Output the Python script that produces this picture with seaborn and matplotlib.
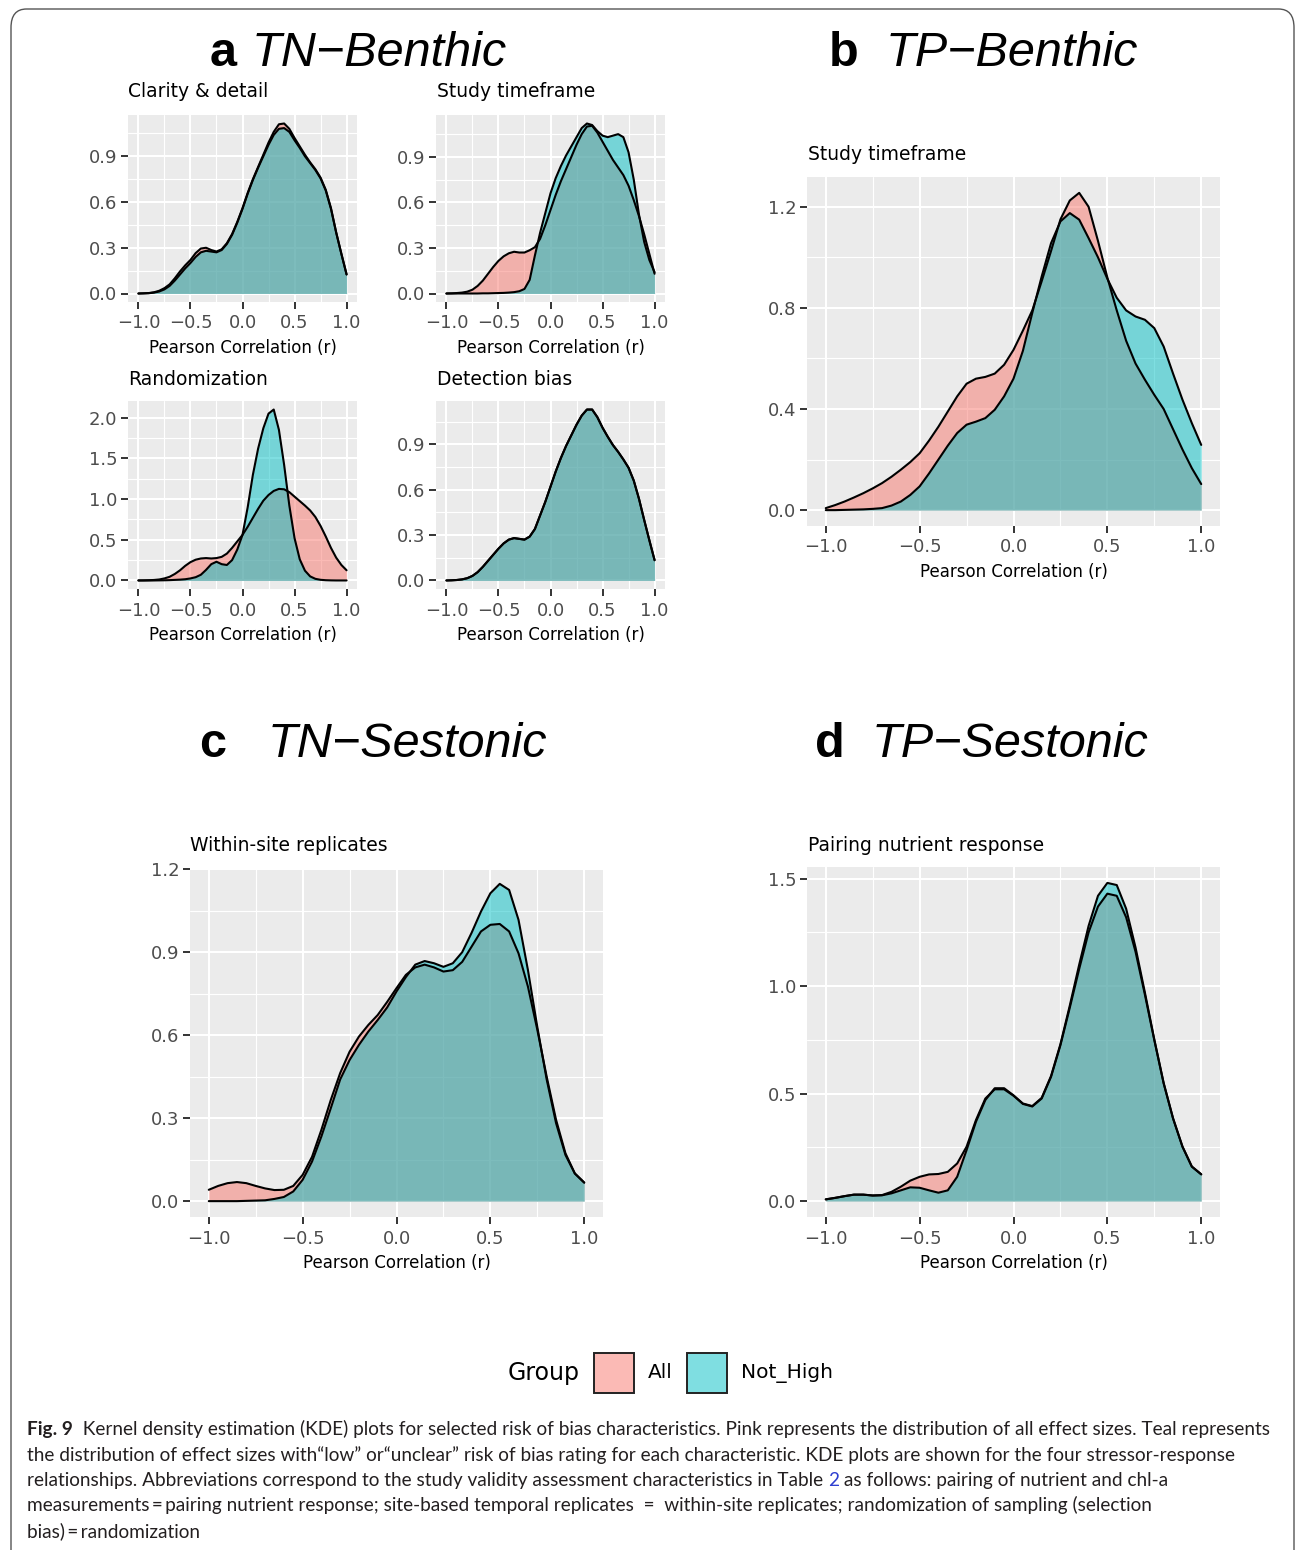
import numpy as np
import pandas as pd
import matplotlib
matplotlib.use("Agg")
import matplotlib.pyplot as plt
import matplotlib.font_manager as fm
import seaborn as sns
from matplotlib.patches import Rectangle, FancyBboxPatch
from matplotlib.ticker import FixedLocator, FixedFormatter

# ---------------- data ----------------
R_GRID = [-1.00, -0.95, -0.90, -0.85, -0.80, -0.75, -0.70, -0.65, -0.60, -0.55,
          -0.50, -0.45, -0.40, -0.35, -0.30, -0.25, -0.20, -0.15, -0.10, -0.05,
          0.00, 0.05, 0.10, 0.15, 0.20, 0.25, 0.30, 0.35, 0.40, 0.45,
          0.50, 0.55, 0.60, 0.65, 0.70, 0.75, 0.80, 0.85, 0.90, 0.95, 1.00]

GROUPS = ["All", "Not_High"]

# a) TN-Benthic : Clarity & detail
CLARITY_ALL = [0.000, 0.001, 0.003, 0.008, 0.018, 0.035, 0.060, 0.100, 0.145, 0.185,
               0.220, 0.265, 0.295, 0.300, 0.285, 0.275, 0.290, 0.330, 0.390, 0.470,
               0.560, 0.660, 0.750, 0.830, 0.910, 0.990, 1.060, 1.110, 1.115, 1.080,
               1.020, 0.965, 0.910, 0.860, 0.815, 0.760, 0.680, 0.560, 0.400, 0.260, 0.125]
CLARITY_NH = [0.000, 0.001, 0.002, 0.006, 0.013, 0.027, 0.050, 0.085, 0.125, 0.165,
              0.200, 0.240, 0.270, 0.280, 0.275, 0.270, 0.285, 0.325, 0.385, 0.465,
              0.555, 0.655, 0.745, 0.825, 0.900, 0.975, 1.040, 1.080, 1.085, 1.060,
              1.005, 0.955, 0.900, 0.855, 0.810, 0.755, 0.675, 0.555, 0.400, 0.260, 0.125]

# a) TN-Benthic : Study timeframe
TIMEFRAME_TN_ALL = [0.000, 0.001, 0.003, 0.006, 0.012, 0.025, 0.050, 0.085, 0.130, 0.175,
                    0.215, 0.245, 0.265, 0.275, 0.270, 0.270, 0.285, 0.305, 0.360, 0.450,
                    0.550, 0.650, 0.740, 0.820, 0.900, 0.980, 1.050, 1.100, 1.105, 1.060,
                    1.000, 0.940, 0.880, 0.830, 0.780, 0.710, 0.615, 0.510, 0.390, 0.260, 0.130]
TIMEFRAME_TN_NH = [0.000, 0.000, 0.000, 0.000, 0.000, 0.000, 0.000, 0.001, 0.001, 0.002,
                   0.003, 0.004, 0.006, 0.009, 0.015, 0.030, 0.090, 0.250, 0.400, 0.530,
                   0.660, 0.760, 0.840, 0.910, 0.970, 1.030, 1.090, 1.120, 1.110, 1.070,
                   1.040, 1.030, 1.040, 1.050, 1.030, 0.930, 0.750, 0.520, 0.340, 0.220, 0.140]

# a) TN-Benthic : Randomization
RANDOM_ALL = [0.000, 0.001, 0.003, 0.006, 0.012, 0.025, 0.045, 0.080, 0.125, 0.180,
              0.225, 0.255, 0.270, 0.275, 0.270, 0.275, 0.290, 0.330, 0.400, 0.480,
              0.560, 0.660, 0.770, 0.880, 0.980, 1.050, 1.100, 1.125, 1.120, 1.085,
              1.030, 0.975, 0.920, 0.860, 0.780, 0.670, 0.540, 0.400, 0.280, 0.190, 0.125]
RANDOM_NH = [0.000, 0.000, 0.000, 0.000, 0.001, 0.002, 0.004, 0.007, 0.010, 0.015,
             0.025, 0.040, 0.070, 0.130, 0.200, 0.230, 0.200, 0.190, 0.250, 0.380,
             0.560, 0.900, 1.300, 1.620, 1.870, 2.050, 2.100, 1.850, 1.420, 0.920,
             0.520, 0.260, 0.120, 0.050, 0.020, 0.008, 0.003, 0.001, 0.000, 0.000, 0.000]

# a) TN-Benthic : Detection bias (both groups identical)
DETECTION_ALL = [0.000, 0.001, 0.003, 0.007, 0.015, 0.030, 0.055, 0.090, 0.130, 0.170,
                 0.210, 0.245, 0.270, 0.280, 0.275, 0.270, 0.290, 0.340, 0.430, 0.520,
                 0.620, 0.720, 0.810, 0.890, 0.960, 1.030, 1.090, 1.130, 1.130, 1.080,
                 1.010, 0.950, 0.895, 0.850, 0.800, 0.745, 0.660, 0.540, 0.400, 0.265, 0.134]
DETECTION_NH = list(DETECTION_ALL)

# b) TP-Benthic : Study timeframe
TIMEFRAME_TP_ALL = [0.008, 0.020, 0.034, 0.050, 0.067, 0.086, 0.107, 0.132, 0.160, 0.190,
                    0.225, 0.275, 0.330, 0.390, 0.450, 0.500, 0.520, 0.527, 0.540, 0.575,
                    0.634, 0.710, 0.790, 0.905, 1.025, 1.150, 1.225, 1.255, 1.200, 1.065,
                    0.920, 0.790, 0.670, 0.580, 0.516, 0.456, 0.400, 0.320, 0.240, 0.166, 0.103]
TIMEFRAME_TP_NH = [0.000, 0.000, 0.001, 0.002, 0.003, 0.005, 0.008, 0.018, 0.034, 0.060,
                   0.094, 0.145, 0.200, 0.255, 0.305, 0.338, 0.350, 0.364, 0.397, 0.450,
                   0.520, 0.630, 0.780, 0.924, 1.056, 1.142, 1.175, 1.149, 1.076, 1.000,
                   0.915, 0.840, 0.790, 0.766, 0.753, 0.720, 0.647, 0.540, 0.437, 0.344, 0.258]

# c) TN-Sestonic : Within-site replicates
WITHIN_ALL = [0.041, 0.055, 0.065, 0.069, 0.065, 0.055, 0.046, 0.040, 0.041, 0.055,
              0.095, 0.160, 0.258, 0.366, 0.463, 0.540, 0.595, 0.637, 0.673, 0.720,
              0.770, 0.818, 0.845, 0.855, 0.845, 0.830, 0.835, 0.865, 0.920, 0.975,
              0.999, 1.002, 0.975, 0.896, 0.776, 0.620, 0.450, 0.294, 0.173, 0.100, 0.067]
WITHIN_NH = [0.000, 0.000, 0.000, 0.000, 0.001, 0.002, 0.003, 0.008, 0.015, 0.035,
             0.077, 0.143, 0.234, 0.336, 0.440, 0.510, 0.565, 0.613, 0.655, 0.700,
             0.758, 0.810, 0.855, 0.868, 0.860, 0.847, 0.860, 0.900, 0.970, 1.047,
             1.113, 1.147, 1.125, 1.017, 0.836, 0.630, 0.440, 0.282, 0.167, 0.100, 0.067]

# d) TP-Sestonic : Pairing nutrient response
PAIRING_ALL = [0.008, 0.015, 0.023, 0.030, 0.030, 0.026, 0.028, 0.043, 0.067, 0.095,
               0.113, 0.124, 0.126, 0.136, 0.175, 0.253, 0.377, 0.477, 0.520, 0.520,
               0.490, 0.452, 0.440, 0.477, 0.578, 0.725, 0.900, 1.080, 1.250, 1.370,
               1.430, 1.420, 1.320, 1.160, 0.960, 0.749, 0.547, 0.384, 0.253, 0.160, 0.124]
PAIRING_NH = [0.008, 0.015, 0.023, 0.030, 0.030, 0.026, 0.027, 0.036, 0.050, 0.064,
              0.062, 0.050, 0.039, 0.050, 0.113, 0.237, 0.369, 0.470, 0.525, 0.525,
              0.492, 0.454, 0.442, 0.480, 0.582, 0.730, 0.910, 1.100, 1.280, 1.420,
              1.480, 1.470, 1.360, 1.180, 0.970, 0.752, 0.549, 0.385, 0.254, 0.161, 0.125]

X_TICKS = [-1.0, -0.5, 0.0, 0.5, 1.0]
X_TICK_LABELS = ["\u22121.0", "\u22120.5", "0.0", "0.5", "1.0"]
X_LABEL = "Pearson Correlation (r)"

# ---------------- style ----------------
W, H, DPI = 1295, 1550, 100
sns.set_theme(style="darkgrid")
plt.rcParams["font.family"] = ["DejaVu Sans"]
plt.rcParams["text.color"] = "black"
plt.rcParams["axes.labelcolor"] = "black"
PANEL_BG = "#EBEBEB"
COLORS = {"All": "#F8766D", "Not_High": "#00BFC4"}
TITLE_FONT = ["Liberation Sans", "DejaVu Sans"]

fig = plt.figure(figsize=(W / DPI, H / DPI), dpi=DPI)
fig.patch.set_facecolor("white")


def px_axes(x0, y0, x1, y1):
    return fig.add_axes([x0 / W, 1 - y1 / H, (x1 - x0) / W, (y1 - y0) / H])


def make_df(all_vals, nh_vals):
    return pd.DataFrame({
        "r": R_GRID + R_GRID,
        "density": list(all_vals) + list(nh_vals),
        "Group": ["All"] * len(R_GRID) + ["Not_High"] * len(R_GRID),
    })


def draw_panel(box, df, yticks, subtitle, title_xy):
    ax = px_axes(*box)
    for g in GROUPS:
        sub = df[df["Group"] == g]
        ax.fill_between(sub["r"], 0, sub["density"], color=COLORS[g], alpha=0.5,
                        lw=0, zorder=2)
        sns.lineplot(data=sub, x="r", y="density", color="black", lw=1.5, ax=ax,
                     estimator=None, sort=True, legend=False, zorder=3,
                     solid_joinstyle="round", solid_capstyle="round")
    ymax = df["density"].max()
    ax.set_xlim(-1.1, 1.1)
    ax.set_ylim(-0.05 * ymax, 1.05 * ymax)
    ax.set_facecolor(PANEL_BG)
    for s in ax.spines.values():
        s.set_visible(False)
    ax.xaxis.set_major_locator(FixedLocator(X_TICKS))
    ax.xaxis.set_major_formatter(FixedFormatter(X_TICK_LABELS))
    ax.xaxis.set_minor_locator(FixedLocator([-0.75, -0.25, 0.25, 0.75]))
    step = yticks[1] - yticks[0]
    ylo, yhi = ax.get_ylim()
    yminor = [t + step / 2 for t in yticks if ylo < t + step / 2 < yhi]
    ax.yaxis.set_major_locator(FixedLocator(yticks))
    ax.yaxis.set_major_formatter(FixedFormatter([f"{t:.1f}" for t in yticks]))
    ax.yaxis.set_minor_locator(FixedLocator(yminor))
    ax.grid(which="major", color="white", lw=1.5)
    ax.grid(which="minor", color="white", lw=0.8)
    ax.set_axisbelow(True)
    ax.tick_params(which="major", length=5, width=1.4, color="#333333",
                   labelcolor="#4D4D4D", labelsize=13, direction="out")
    ax.tick_params(axis="x", pad=4)
    ax.tick_params(axis="y", pad=2.5)
    ax.tick_params(which="minor", length=0)
    ax.tick_params(left=True, bottom=True)
    ax.set_xlabel(X_LABEL, fontsize=12, color="black", labelpad=5)
    ax.set_ylabel("")
    fig.text(title_xy[0] / W, 1 - title_xy[1] / H, subtitle, fontsize=13.5,
             color="black", ha="left", va="baseline")
    return ax


panels = [
    ((128, 115, 357, 302), make_df(CLARITY_ALL, CLARITY_NH), [0, 0.3, 0.6, 0.9],
     "Clarity & detail", (128, 97)),
    ((436, 115, 665, 302), make_df(TIMEFRAME_TN_ALL, TIMEFRAME_TN_NH), [0, 0.3, 0.6, 0.9],
     "Study timeframe", (437, 97)),
    ((128, 401, 357, 589), make_df(RANDOM_ALL, RANDOM_NH), [0, 0.5, 1.0, 1.5, 2.0],
     "Randomization", (128, 385)),
    ((436, 401, 665, 589), make_df(DETECTION_ALL, DETECTION_NH), [0, 0.3, 0.6, 0.9],
     "Detection bias", (437, 385)),
    ((807, 177, 1220, 526), make_df(TIMEFRAME_TP_ALL, TIMEFRAME_TP_NH), [0, 0.4, 0.8, 1.2],
     "Study timeframe", (808, 160)),
    ((190, 868, 603, 1217), make_df(WITHIN_ALL, WITHIN_NH), [0, 0.3, 0.6, 0.9, 1.2],
     "Within-site replicates", (190, 851)),
    ((807, 867, 1220, 1217), make_df(PAIRING_ALL, PAIRING_NH), [0, 0.5, 1.0, 1.5],
     "Pairing nutrient response", (808, 851)),
]
for box, df, yt, st, txy in panels:
    draw_panel(box, df, yt, st, txy)

# ---------------- panel headings ----------------
headings = [("a", "TN\u2212Benthic", 210, 252, 66),
            ("b", "TP\u2212Benthic", 829, 886, 66),
            ("c", "TN\u2212Sestonic", 199, 268, 757),
            ("d", "TP\u2212Sestonic", 815, 872, 757)]
for letter, name, xl, xn, yb in headings:
    fig.text(xl / W, 1 - yb / H, letter, fontsize=35, fontweight="bold",
             family=TITLE_FONT, color="black", ha="left", va="baseline")
    fig.text(xn / W, 1 - yb / H, name, fontsize=35, style="italic",
             family=TITLE_FONT, color="black", ha="left", va="baseline")

# ---------------- legend ----------------
LEG_Y = 1373
fig.text(508 / W, 1 - LEG_Y / H, "Group", fontsize=17, color="black",
         ha="left", va="center")
for g, kx, tx in [("All", 594, 648), ("Not_High", 687, 741)]:
    fig.add_artist(Rectangle((kx / W, 1 - 1393 / H), 40 / W, 40 / H,
                             transform=fig.transFigure, facecolor=COLORS[g],
                             alpha=0.5, edgecolor="none"))
    fig.add_artist(Rectangle((kx / W, 1 - 1393 / H), 40 / W, 40 / H,
                             transform=fig.transFigure, facecolor="none",
                             edgecolor="#222222", lw=1.4))
    fig.text(tx / W, 1 - LEG_Y / H, g, fontsize=14.5, color="black",
             ha="left", va="center")

# ---------------- border ----------------
fig.add_artist(FancyBboxPatch((11 / W, -0.05), 1283 / W, (1 - 9 / H) + 0.05,
                              boxstyle="round,pad=0,rounding_size=0.012",
                              transform=fig.transFigure, facecolor="none",
                              edgecolor="#555555", lw=1.0))

# ---------------- caption ----------------
names = {f.name for f in fm.fontManager.ttflist}
CAP_FONT = "Liberation Sans Narrow" if "Liberation Sans Narrow" in names else "Lato"
CAP_COLOR = "#231F20"
renderer = fig.canvas.get_renderer()

cap_lines = [
    [("Fig. 9", "bold", CAP_COLOR),
     ("  Kernel density estimation (KDE) plots for selected risk of bias characteristics. "
      "Pink represents the distribution of all effect sizes. Teal represents", "normal", CAP_COLOR)],
    [("the distribution of effect sizes with\u201clow\u201d or\u201cunclear\u201d risk of bias rating "
      "for each characteristic. KDE plots are shown for the four stressor-response", "normal", CAP_COLOR)],
    [("relationships. Abbreviations correspond to the study validity assessment characteristics in Table ",
      "normal", CAP_COLOR), ("2", "normal", "#2F3FD0"),
     (" as follows: pairing of nutrient and chl-a", "normal", CAP_COLOR)],
    [("measurements\u2009=\u2009pairing nutrient response; site-based temporal replicates  =  within-site "
      "replicates; randomization of sampling (selection", "normal", CAP_COLOR)],
    [("bias)\u2009=\u2009randomization", "normal", CAP_COLOR)],
]

# fit caption size so that the first line spans the same width as in the reference
probe = fig.text(0, 0, "".join(p[0] for p in cap_lines[0]), fontsize=10, family=CAP_FONT)
pw = probe.get_window_extent(renderer).width
probe.remove()
cap_size = 10 * 1243 / pw

CAP_X0 = 27
CAP_BASE = [1435, 1460.5, 1486, 1511.5, 1537]
for line, yb in zip(cap_lines, CAP_BASE):
    x = CAP_X0
    for txt, weight, col in line:
        t = fig.text(x / W, 1 - yb / H, txt, fontsize=cap_size, family=CAP_FONT,
                     fontweight=weight, color=col, ha="left", va="baseline")
        x += t.get_window_extent(renderer).width

fig.savefig("out.png", dpi=DPI, facecolor="white")
